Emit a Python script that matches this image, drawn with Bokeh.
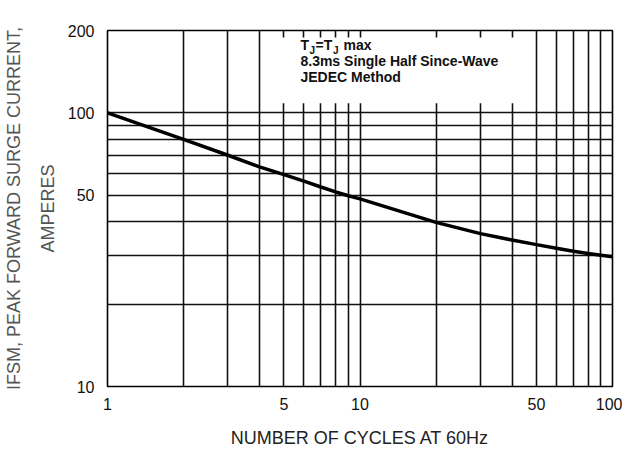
from bokeh.plotting import figure
from bokeh.models import FixedTicker, NumeralTickFormatter, Label, BoxAnnotation, Range1d
from bokeh.embed import file_html
from bokeh.resources import INLINE

# Data
cycles = [1, 2, 3, 4, 5, 6, 7, 8, 9, 10, 15, 20, 30, 40, 50, 60, 70, 80, 90, 100]
surge_current = [100, 80, 70, 63.5, 59.5, 56.3, 53.6, 51.4, 49.8, 48.5, 43.2, 39.8,
                 36.2, 34.3, 33.0, 32.0, 31.2, 30.6, 30.2, 29.8]

x_tick_labels = [1, 5, 10, 50, 100]
y_tick_labels = [10, 50, 100, 200]
x_grid = [2, 3, 4, 5, 6, 7, 8, 9, 10, 20, 30, 40, 50, 60, 70, 80, 90]
y_grid = [20, 30, 40, 50, 60, 70, 80, 90, 100]

FONT = "Liberation Sans"

p = figure(width=622, height=450, x_axis_type="log", y_axis_type="log",
           x_range=Range1d(1, 100), y_range=Range1d(10, 200),
           output_backend="svg", toolbar_location=None,
           min_border_left=107, min_border_right=10, min_border_top=30, min_border_bottom=63)

p.background_fill_color = "white"
p.border_fill_color = "white"
p.outline_line_color = "black"
p.outline_line_width = 1.6

# grids
p.xgrid.ticker = FixedTicker(ticks=x_grid)
p.ygrid.ticker = FixedTicker(ticks=y_grid)
for g in (p.xgrid, p.ygrid):
    g.grid_line_color = "#111111"
    g.grid_line_width = 1.6
    g.grid_line_alpha = 1.0
    g.minor_grid_line_color = None

# axes
p.xaxis.ticker = FixedTicker(ticks=x_tick_labels)
p.yaxis.ticker = FixedTicker(ticks=y_tick_labels)
for ax in (p.xaxis, p.yaxis):
    ax.formatter = NumeralTickFormatter(format="0")
    ax.axis_line_color = None
    ax.major_tick_line_color = None
    ax.minor_tick_line_color = None
    ax.major_label_text_font = FONT
    ax.major_label_text_font_size = "16px"
    ax.major_label_text_color = "#111111"
    ax.axis_label_text_font = FONT
    ax.axis_label_text_font_style = "normal"
    ax.axis_label_text_font_size = "18px"

p.xaxis.major_label_standoff = 5
p.yaxis.major_label_standoff = 7
p.xaxis.axis_label = "NUMBER OF CYCLES AT 60Hz"
p.xaxis.axis_label_text_color = "#222222"
p.xaxis.axis_label_standoff = 15
p.yaxis.axis_label = "IFSM, PEAK FORWARD SURGE CURRENT,\nAMPERES"
p.yaxis.axis_label_text_color = "#555555"
p.yaxis.axis_label_standoff = 7
p.yaxis.axis_label_text_line_height = 1.7

# white box behind the note
p.add_layout(BoxAnnotation(left=4.42, right=44.8, bottom=108.4, top=188.6,
                           fill_color="white", fill_alpha=1.0, line_color=None))

# curve
p.line(cycles, surge_current, line_color="black", line_width=3.5)

# note text
tx = 5.81
fs = "14px"
sub = "10px"
st = "bold"
col = "#111111"
p.add_layout(Label(x=tx, y=164.9, text="T", text_font=FONT, text_font_size=fs, text_font_style=st, text_color=col))
p.add_layout(Label(x=tx, y=164.9, x_offset=9, y_offset=-3, text="J", text_font=FONT, text_font_size=sub, text_font_style=st, text_color=col))
p.add_layout(Label(x=tx, y=164.9, x_offset=15, text="=T", text_font=FONT, text_font_size=fs, text_font_style=st, text_color=col))
p.add_layout(Label(x=tx, y=164.9, x_offset=32.5, y_offset=-3, text="J", text_font=FONT, text_font_size=sub, text_font_style=st, text_color=col))
p.add_layout(Label(x=tx, y=164.9, x_offset=43, text="max", text_font=FONT, text_font_size=fs, text_font_style=st, text_color=col))
p.add_layout(Label(x=tx, y=144.2, text="8.3ms Single Half Since-Wave", text_font=FONT, text_font_size=fs, text_font_style=st, text_color=col))
p.add_layout(Label(x=tx, y=126.1, text="JEDEC Method", text_font=FONT, text_font_size=fs, text_font_style=st, text_color=col))

open("out.html", "w").write(file_html(p, INLINE))
